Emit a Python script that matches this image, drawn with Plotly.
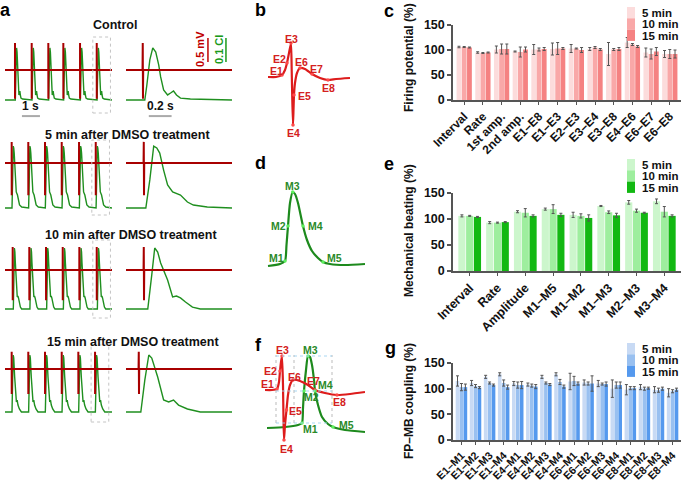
import plotly.graph_objects as go

W, H = 685, 481
def PX(x): return x / W
def PY(y): return 1 - y / H

FONT = "Liberation Sans, Arial, Helvetica, sans-serif"

# ------------------------------------------------------------------ data
# panel c : firing potential (% of control)
FP_CATS = ["Interval", "Rate", "1st amp.", "2nd amp.", "E1–E8", "E1–E3", "E2–E3",
           "E3–E4", "E3–E8", "E4–E6", "E6–E7", "E6–E8"]
FP_5 = [106, 95, 101, 97, 101, 102, 103, 102, 92, 115, 95, 92]
FP_10 = [106, 94, 102, 96, 101, 103, 103, 105, 101, 111, 92, 92]
FP_15 = [105, 95, 102, 101, 102, 103, 100, 101, 102, 107, 97, 92]
FP_5_ERR = [1.5, 1.5, 7, 1, 10, 12, 8, 3, 23, 10, 9, 7]
FP_10_ERR = [1, 1, 10, 10, 3, 12, 1, 2, 2, 2, 10, 9]
FP_15_ERR = [1, 1, 10, 5, 3, 2, 5, 2, 3, 2, 8, 8]

# panel e : mechanical beating (% of control)
MB_CATS = ["Interval", "Rate", "Amplitude", "M1–M5", "M1–M2", "M1–M3", "M2–M3", "M3–M4"]
MB_5 = [106, 93, 114, 119, 108, 125, 132, 134]
MB_10 = [106, 93, 112, 119, 106, 113, 116, 114]
MB_15 = [104, 94, 106, 108, 102, 107, 112, 106]
MB_5_ERR = [2, 2, 2, 2, 5, 1, 3.5, 4.5]
MB_10_ERR = [1, 1, 8, 8.5, 4, 2.5, 3, 10]
MB_15_ERR = [1, 1, 2, 3, 6, 4, 1, 2]

# panel g : FP-MB coupling (% of control)
CP_CATS = ["E1–M1", "E1–M2", "E1–M3", "E1–M4", "E4–M1", "E4–M2", "E4–M3", "E4–M4",
           "E6–M1", "E6–M2", "E6–M3", "E6–M4", "E8–M1", "E8–M2", "E8–M3", "E8–M4"]
CP_5 = [115, 111, 123, 128, 110, 108, 123, 128, 114, 112, 110, 100, 98, 103, 98, 92]
CP_10 = [103, 105, 111, 111, 107, 106, 111, 113, 115, 110, 109, 107, 101, 100, 97, 95]
CP_15 = [103, 102, 107, 103, 107, 104, 108, 104, 110, 110, 109, 107, 101, 101, 100, 98]
CP_5_ERR = [10, 5, 3, 3, 4, 3, 3, 3, 16, 5, 6, 17, 10, 5, 6, 8]
CP_10_ERR = [7, 3, 2, 6, 6, 3, 2, 5, 9, 3, 2, 6, 3, 3, 4, 3]
CP_15_ERR = [6, 2, 2, 4, 7, 4, 2, 3, 3, 15, 4, 6, 3, 2, 3, 3]

SERIES_NAMES = ["5 min", "10 min", "15 min"]

# panel a : recordings
ROW_TITLES = ["Control", "5 min after DMSO treatment",
              "10 min after DMSO treatment", "15 min after DMSO treatment"]
# FP spike times (s) in the 6-s traces
BEAT_TIMES = [
    [0.556, 1.483, 2.406, 3.239, 4.167, 5.094],
    [0.372, 1.294, 2.222, 3.150, 4.111, 5.039],
    [0.428, 1.350, 2.278, 3.206, 4.128, 5.094],
    [0.372, 1.294, 2.222, 3.150, 4.072, 5.000],
]
# FP spike time (s) in the zoomed 0.93-s trace
ZOOM_SPIKE_T = [0.148, 0.157, 0.157, 0.113]
# FP spike extremes (mV)
FP_UP = [0.56, 0.44, 0.48, 0.36]
FP_DOWN = [-0.60, -0.67, -0.63, -0.52]
# MB (cell impedance) beat shape per row: time after FP spike (s), CI
MB_T = [
    [0.017, 0.035, 0.061, 0.087, 0.113, 0.139, 0.156, 0.182, 0.217, 0.243, 0.269, 0.295, 0.330, 0.417],
    [0.017, 0.052, 0.086, 0.113, 0.139, 0.173, 0.208, 0.252, 0.321, 0.382, 0.434, 0.556],
    [0.034, 0.069, 0.095, 0.121, 0.147, 0.208, 0.252, 0.286, 0.321, 0.365, 0.426, 0.495],
    [0.017, 0.052, 0.087, 0.113, 0.165, 0.217, 0.261, 0.304, 0.348, 0.426, 0.539],
]
MB_V = [
    [0.0, 0.0625, 0.167, 0.217, 0.200, 0.146, 0.096, 0.042, 0.021, 0.029, 0.0375, 0.021, 0.008, 0.004],
    [0.0, 0.117, 0.258, 0.250, 0.229, 0.158, 0.096, 0.067, 0.054, 0.025, 0.0125, 0.004],
    [0.0, 0.142, 0.254, 0.2375, 0.192, 0.121, 0.050, 0.054, 0.046, 0.029, 0.008, 0.0],
    [0.0, 0.133, 0.2375, 0.225, 0.146, 0.050, 0.042, 0.050, 0.029, 0.0125, 0.0],
]
LONG_T_END = 5.94
ZOOM_T_END = 0.93

# panel b : FP waveform (a.u.)
B_T = [3, 11, 17, 20, 22, 24, 26, 26.7, 27.3, 28, 28.5, 29, 30, 32, 35, 40, 47, 55, 63, 71, 85]
B_V = [0, 0, 2, 7, 14, 24, 34, 7, -23, -48, -33, -18, -6, 4, 9, 8, 3, -1, -3, -2, -1]
B_PTS = ["E1", "E2", "E3", "E4", "E5", "E6", "E7", "E8"]
B_PT_T = [17, 22, 26, 28, 29, 35, 47, 63]
B_PT_V = [2, 14, 34, -48, -18, 9, 3, -3]

# panel d : MB waveform (a.u.)
D_T = [3, 15, 20, 21.5, 23, 25, 27.7, 30, 33, 38, 42, 47, 53, 58, 65, 80, 100]
D_V = [-1, 1, 4, 20, 39, 62, 73, 71, 62, 39, 25, 14, 7, 3, 1, 0, 1]
D_PTS = ["M1", "M2", "M3", "M4", "M5"]
D_PT_T = [20, 23, 27.7, 38, 58]
D_PT_V = [4, 39, 73, 39, 3]

# panel f : FP and MB overlaid (a.u.)
F_FP_T = [0, 7, 12, 14, 15, 16, 17, 18, 18.5, 19, 20, 21.5, 23, 25, 28, 35, 43, 50, 60, 72, 85, 100]
F_FP_V = [0, 0, 1, 8, 19, 28, 34, 5, -30, -50, -35, -20, -5, 5, 10, 9, 5, 0, -3, -5, -4, -2]
F_MB_T = [2, 20, 33, 37, 38, 39, 41, 43, 45, 47, 49, 50, 53, 57, 63, 68, 80, 100]
F_MB_V = [-38, -37, -35, -33, -18, -1, 20, 34, 33, 25, 10, -1, -15, -27, -34, -37, -40, -42]
F_FP_PTS = ["E1", "E2", "E3", "E4", "E5", "E6", "E7", "E8"]
F_FP_PT_T = [12, 15, 17, 19, 21.5, 28, 50, 72]
F_FP_PT_V = [1, 19, 34, -50, -20, 10, 0, -5]
F_MB_PTS = ["M1", "M2", "M3", "M4", "M5"]
F_MB_PT_T = [37, 39, 43, 50, 68]
F_MB_PT_V = [-33, -1, 34, -1, -37]

# ------------------------------------------------------------------ styles
RED_A = "#a80000"
GREEN_A = "#1f8f1f"
RED_W = "#dd1c1c"
RED_TXT = "#d42020"
GREEN_W = "#1d8a1d"
GREEN_TXT = "#2a8a2a"
C_COLORS = ["#fcdcdc", "#f9a8a8", "#f58282"]
E_COLORS = ["#ccf6cc", "#9eee9e", "#12b812"]
G_COLORS = ["#c8daf4", "#99c0f0", "#5599ee"]
AX = "#555555"

fig = go.Figure()
layout_axes = {}
annotations = []
shapes = []
_n = [0]


def new_axes(xdom_px, ydom_px, xrange=None, yrange=None, xkw=None, ykw=None):
    _n[0] += 1
    n = _n[0]
    sx = "" if n == 1 else str(n)
    xa = dict(domain=[PX(xdom_px[0]), PX(xdom_px[1])], anchor="y" + sx, fixedrange=True,
              automargin=False)
    ya = dict(domain=[PY(ydom_px[1]), PY(ydom_px[0])], anchor="x" + sx, fixedrange=True,
              automargin=False)
    if xrange is not None:
        xa["range"] = xrange
    if yrange is not None:
        ya["range"] = yrange
    if xkw:
        xa.update(xkw)
    if ykw:
        ya.update(ykw)
    layout_axes["xaxis" + sx] = xa
    layout_axes["yaxis" + sx] = ya
    return "x" + sx, "y" + sx


def txt(x, y, s, size=12, color="#111", xref="paper", yref="paper", angle=0,
        xanchor="center", yanchor="middle", **kw):
    d = dict(x=x, y=y, text=s, xref=xref, yref=yref, showarrow=False, textangle=angle,
             xanchor=xanchor, yanchor=yanchor,
             font=dict(family=FONT, size=size, color=color, weight="bold"))
    d.update(kw)
    annotations.append(d)


HID = dict(visible=False)

# ------------------------------------------------------------------ panel a
# layout geometry per row: top px, bottom px, FP baseline px, MB baseline px
ROW_GEOM = [(30, 120, 70, 100), (138, 220, 163, 208), (240, 322, 270, 309), (345, 425, 369, 412)]
ROW_TITLE_Y = [25, 135, 235, 342]
ROW_TITLE_X = [115, 127, 131, 133]
BOX_Y = [(37, 113), (140, 215), (240, 318), (345, 422)]
FP_PX_PER_MV = 48.0
MB_PX_PER_CI = 240.0
LEFT_PX = (5, 112)
RIGHT_PX = (126, 232)


def mb_series(beats, rel_t, vals, t_end):
    xs, ys = [0.0], [0.0]
    for b in beats:
        for t, v in zip(rel_t, vals):
            xs.append(b + t)
            ys.append(v)
    xs.append(t_end)
    ys.append(0.0)
    return xs, ys


def fp_series(beats, up, down, t_end):
    xs, ys = [0.0], [0.0]
    for b in beats:
        xs += [b - 0.003, b - 0.001, b + 0.001, b + 0.003]
        ys += [0.0, up, down, 0.0]
    xs.append(t_end)
    ys.append(0.0)
    return xs, ys


row_axes = []
for r in range(4):
    top, bot, rb, gb = ROW_GEOM[r]
    red_rng = [(rb - bot) / FP_PX_PER_MV, (rb - top) / FP_PX_PER_MV]
    grn_rng = [(gb - bot) / MB_PX_PER_CI, (gb - top) / MB_PX_PER_CI]
    axes = {}
    for side, xpx, tend, beats in (("L", LEFT_PX, LONG_T_END, BEAT_TIMES[r]),
                                    ("R", RIGHT_PX, ZOOM_T_END, [ZOOM_SPIKE_T[r]])):
        xg, yg = new_axes(xpx, (top, bot), [0, tend], grn_rng, HID, HID)
        mx, my = mb_series(beats, MB_T[r], MB_V[r], tend)
        fig.add_trace(go.Scatter(x=mx, y=my, xaxis=xg, yaxis=yg, mode="lines",
                                 line=dict(color=GREEN_A, width=1.4), showlegend=False,
                                 hoverinfo="skip"))
        xr, yr = new_axes(xpx, (top, bot), [0, tend], red_rng, HID, HID)
        fx, fy = fp_series(beats, FP_UP[r], FP_DOWN[r], tend)
        fig.add_trace(go.Scatter(x=fx, y=fy, xaxis=xr, yaxis=yr, mode="lines",
                                 line=dict(color=RED_A, width=2), showlegend=False,
                                 hoverinfo="skip"))
        axes[side] = (xg, yg, xr, yr)
    row_axes.append(axes)
    # dotted box around the last beat
    xg, yg, _, _ = axes["L"]
    last = BEAT_TIMES[r][-1]
    shapes.append(dict(type="rect", xref=xg, yref="paper", x0=last - 0.22, x1=last + 0.76,
                       y0=PY(BOX_Y[r][1]), y1=PY(BOX_Y[r][0]),
                       line=dict(color="#c4c4c4", width=1, dash="dot")))
    txt(PX(ROW_TITLE_X[r]), PY(ROW_TITLE_Y[r]), ROW_TITLES[r], size=12.5)

# scale bars (row 1)
xg, yg, xr, yr = row_axes[0]["L"]
shapes.append(dict(type="line", xref=xg, yref=yg, x0=0.94, x1=1.94, y0=-0.067, y1=-0.067,
                   line=dict(color="#aaaaaa", width=2)))
txt(1.44, -0.067, "1 s", size=12, xref=xg, yref=yg, yanchor="bottom", yshift=1)
xg, yg, xr, yr = row_axes[0]["R"]
shapes.append(dict(type="line", xref=xg, yref=yg, x0=0.20, x1=0.40, y0=-0.067, y1=-0.067,
                   line=dict(color="#aaaaaa", width=2)))
txt(0.30, -0.067, "0.2 s", size=12, xref=xg, yref=yg, yanchor="bottom", yshift=1)
shapes.append(dict(type="line", xref=xr, yref=yr, x0=0.719, x1=0.719, y0=0.167, y1=0.667,
                   line=dict(color="#c00000", width=1.5)))
shapes.append(dict(type="line", xref=xg, yref=yg, x0=0.877, x1=0.877, y0=0.158, y1=0.258,
                   line=dict(color="#1a9a1a", width=1.5)))
txt(PX(200), PY(49), "0.5 mV", size=11, color="#c00000", angle=-90)
txt(PX(219), PY(50), "0.1 CI", size=11, color="#1a9a1a", angle=-90)

# ------------------------------------------------------------------ panels b, d, f


def marker_trace(xa, ya, t, v, color):
    fig.add_trace(go.Scatter(x=t, y=v, xaxis=xa, yaxis=ya, mode="markers",
                             marker=dict(color=color, size=3.5, symbol="circle"),
                             showlegend=False, hoverinfo="skip"))


# b
xb, yb = new_axes((257, 365), (28, 140), [-8, 100], [-63, 49], HID, HID)
fig.add_trace(go.Scatter(x=B_T, y=B_V, xaxis=xb, yaxis=yb, mode="lines",
                         line=dict(color=RED_W, width=2.2, shape="spline", smoothing=0.5),
                         showlegend=False, hoverinfo="skip"))
marker_trace(xb, yb, B_PT_T, B_PT_V, "#ff4a4a")
B_LAB = [(11, 6), (14, 18), (26, 38), (28, -56), (39, -19), (36, 15), (51, 8), (63, -11)]
for name, (lx, ly) in zip(B_PTS, B_LAB):
    txt(lx, ly, name, size=10.5, color=RED_TXT, xref=xb, yref=yb)

# d
xd, yd = new_axes((257, 365), (175, 275), [-8, 100], [-10, 90], HID, HID)
fig.add_trace(go.Scatter(x=D_T, y=D_V, xaxis=xd, yaxis=yd, mode="lines",
                         line=dict(color=GREEN_W, width=2.2, shape="spline", smoothing=0.6),
                         showlegend=False, hoverinfo="skip"))
marker_trace(xd, yd, D_PT_T, D_PT_V, "#5ef05e")
D_LAB = [(11, 7), (13, 39), (27.5, 79), (50, 39), (69, 7)]
for name, (lx, ly) in zip(D_PTS, D_LAB):
    txt(lx, ly, name, size=10.5, color=GREEN_TXT, xref=xd, yref=yd)

# f
xf, yf = new_axes((257, 365), (345, 460), [-8, 100], [-70, 45], HID, HID)
for gx in (11, 29, 67):
    shapes.append(dict(type="line", xref=xf, yref=yf, x0=gx, x1=gx, y0=-33, y1=35,
                       line=dict(color="#aaaaaa", width=0.8, dash="dot")))
for gy in (34, -1, -33):
    shapes.append(dict(type="line", xref=xf, yref=yf, x0=11, x1=67, y0=gy, y1=gy,
                       line=dict(color="#9fd3f0", width=0.9, dash="dot")))
fig.add_trace(go.Scatter(x=F_MB_T, y=F_MB_V, xaxis=xf, yaxis=yf, mode="lines",
                         line=dict(color=GREEN_W, width=2.2, shape="spline", smoothing=0.6),
                         showlegend=False, hoverinfo="skip"))
fig.add_trace(go.Scatter(x=F_FP_T, y=F_FP_V, xaxis=xf, yaxis=yf, mode="lines",
                         line=dict(color=RED_W, width=2.2, shape="spline", smoothing=0.5),
                         showlegend=False, hoverinfo="skip"))
marker_trace(xf, yf, F_FP_PT_T, F_FP_PT_V, "#ff4a4a")
marker_trace(xf, yf, F_MB_PT_T, F_MB_PT_V, "#5ef05e")
F_FP_LAB = [(2, 6), (5, 19), (17, 40), (21, -59), (30, -21), (29, 13), (48, 9), (74, -12)]
F_MB_LAB = [(45, -39), (46, -7), (45, 40), (60, 5), (81, -35)]
for name, (lx, ly) in zip(F_FP_PTS, F_FP_LAB):
    txt(lx, ly, name, size=10.5, color=RED_TXT, xref=xf, yref=yf)
for name, (lx, ly) in zip(F_MB_PTS, F_MB_LAB):
    txt(lx, ly, name, size=10.5, color=GREEN_TXT, xref=xf, yref=yf)

# ------------------------------------------------------------------ bar panels


def bar_panel(cats, series, errs, colors, ydom_px, ytitle, title_y, legend_top, tick_size):
    xkw = dict(type="category", range=[-0.6, len(cats) - 0.4], tickangle=-45,
               showline=True, linecolor=AX, linewidth=1.5, ticks="outside", ticklen=3,
               tickwidth=1, tickcolor=AX, showgrid=False, zeroline=False,
               tickfont=dict(family=FONT, size=tick_size, color="#111", weight="bold"))
    ykw = dict(range=[0, 150], tickvals=[0, 50, 100, 150], showline=True, linecolor=AX,
               linewidth=1.5, ticks="outside", ticklen=4, tickwidth=1.5, tickcolor=AX,
               showgrid=False, zeroline=False,
               tickfont=dict(family=FONT, size=12.5, color="#111", weight="bold"))
    xa, ya = new_axes((453, 681), ydom_px, None, None, xkw, ykw)
    for name, vals, err, col in zip(SERIES_NAMES, series, errs, colors):
        fig.add_trace(go.Bar(x=cats, y=vals, name=name, xaxis=xa, yaxis=ya,
                             marker=dict(color=col, line=dict(width=0)),
                             error_y=dict(type="data", array=err, color="#555555",
                                          thickness=1, width=1.5),
                             showlegend=False, hoverinfo="skip"))
    txt(PX(409), PY(title_y), ytitle, size=12, angle=-90)
    # legend
    for i, (name, col) in enumerate(zip(SERIES_NAMES, colors)):
        y0 = legend_top + i * 11.3
        shapes.append(dict(type="rect", xref="paper", yref="paper", x0=PX(627), x1=PX(635),
                           y0=PY(y0 + 11.3), y1=PY(y0), fillcolor=col, line=dict(width=0)))
        txt(PX(640), PY(y0 + 6), name, size=11.5, xanchor="left")


bar_panel(FP_CATS, [FP_5, FP_10, FP_15], [FP_5_ERR, FP_10_ERR, FP_15_ERR], C_COLORS,
          (25, 100), "Firing potential (%)", 58, 7, 12)
bar_panel(MB_CATS, [MB_5, MB_10, MB_15], [MB_5_ERR, MB_10_ERR, MB_15_ERR], E_COLORS,
          (193, 271), "Mechanical beating (%)", 231, 159, 12.5)
bar_panel(CP_CATS, [CP_5, CP_10, CP_15], [CP_5_ERR, CP_10_ERR, CP_15_ERR], G_COLORS,
          (363, 440), "FP–MB coupling (%)", 401, 343, 10.8)

# panel letters
for letter, (lx, ly) in zip("abcdefg", [(5, 10), (260, 10), (389, 11), (260, 163),
                                         (389, 164), (258, 345), (390, 348)]):
    txt(PX(lx), PY(ly), letter, size=18, color="#000")

fig.update_layout(
    template="none",
    width=W, height=H, margin=dict(l=0, r=0, t=0, b=0, pad=0, autoexpand=False),
    paper_bgcolor="white", plot_bgcolor="rgba(0,0,0,0)",
    barmode="group", bargap=0.16, bargroupgap=0.08,
    showlegend=False, annotations=annotations, shapes=shapes,
    font=dict(family=FONT, color="#111"),
    **layout_axes,
)
fig.write_html("out.html", config={"displayModeBar": False, "responsive": False},
               post_script="document.body.style.margin='0';document.body.style.overflow='hidden';")
